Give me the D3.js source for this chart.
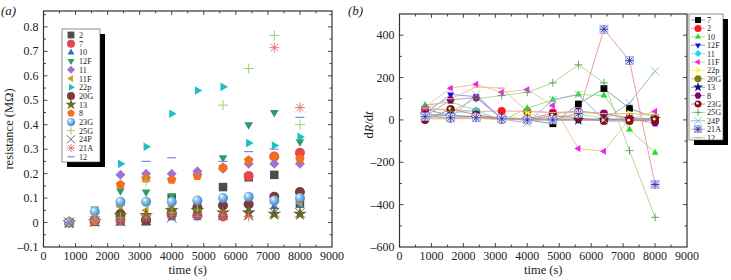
<!DOCTYPE html>
<html>
<head>
<meta charset="utf-8">
<script src="https://cdn.jsdelivr.net/npm/d3@7"></script>
<style>
  body { margin: 0; background: #fff; }
  svg { display: block; font-family: "Liberation Serif", "Times New Roman", serif; }
</style>
</head>
<body>
<svg id="chart" width="731" height="280"></svg>
<script>
// sample times (s)
const times = [800, 1600, 2400, 3200, 4000, 4800, 5600, 6400, 7200, 8000];

// (a) resistance (MΩ)
const namesA = ["2", "7", "10", "12F", "11", "11F", "22p", "20G", "13", "8", "23G", "25G", "24P", "21A", "12"];
const shapesA = ["square", "circle", "triUp", "triDown", "diamond", "triLeft", "triRight", "circle", "star", "pentagon", "sphere", "plus", "x", "asterisk", "dash"];
const colorsA = ["#4d4d4d", "#e8444c", "#2f6fc4", "#2e9a68", "#a070d8", "#c9a12a", "#1fbfc9", "#7a3c3c", "#6e6a1e", "#f26f1f", "#5aa2dc", "#8fd052", "#555555", "#e86a6a", "#6c8ee0"];
const resA = [
  [0, 0.005, 0.005, 0.005, 0.100, 0.050, 0.145, 0.185, 0.195, 0.080],
  [0, 0.010, 0.010, 0.010, 0.030, 0.030, 0.025, 0.190, 0.270, 0.285],
  [0, 0.010, 0.010, 0.010, 0.020, 0.020, 0.030, 0.050, 0.065, 0.070],
  [0, 0.055, 0.130, 0.125, 0.110, 0.070, 0.265, 0.400, 0.450, 0.330],
  [0, 0.010, 0.195, 0.200, 0.200, 0.210, 0.220, 0.240, 0.240, 0.240],
  [0, 0.010, 0.065, 0.050, 0.065, 0.075, 0.075, 0.075, 0.080, 0.080],
  [0, 0.010, 0.240, 0.310, 0.445, 0.540, 0.555, 0.325, 0.315, 0.350],
  [0, 0.005, 0.035, 0.010, 0.040, 0.060, 0.070, 0.075, 0.105, 0.125],
  [0, 0.005, 0.030, 0.030, 0.050, 0.050, 0.040, 0.040, 0.035, 0.035],
  [0, 0.008, 0.155, 0.180, 0.175, 0.190, 0.225, 0.255, 0.270, 0.260],
  [0, 0.045, 0.085, 0.085, 0.085, 0.090, 0.100, 0.105, 0.090, 0.100],
  [0, 0.010, 0.020, 0.170, 0.040, 0.050, 0.480, 0.630, 0.765, 0.400],
  [0, 0.005, 0.005, 0.010, 0.020, 0.040, 0.030, 0.030, 0.040, 0.040],
  [0, 0.005, 0.010, 0.020, 0.030, 0.025, 0.030, 0.025, 0.715, 0.470],
  [0, 0.010, 0.070, 0.250, 0.265, 0.200, 0.250, 0.290, 0.300, 0.430]
];

// (b) dR/dt
const namesB = ["7", "2", "10", "12F", "11", "11F", "22p", "20G", "13", "8", "23G", "25G", "24P", "21A", "12"];
const shapesB = ["square", "circle", "triUp", "triDown", "diamond", "triLeft", "triRight", "circle", "star", "hexagon", "dotCircle", "plus", "x", "boxAsterisk", "dash"];
const colorsB = ["#000000", "#ff1a1a", "#22dd22", "#1010e0", "#10e0e8", "#f020f0", "#ffff20", "#808010", "#10107a", "#800080", "#8b0f0f", "#50a050", "#8cb8cc", "#303098", "#d8b080"];
const lineColorsB = ["#7a9a9a", "#f0a0a0", "#90e090", "#8a8af0", "#90e8f0", "#f0c090", "#f0f090", "#c0c080", "#8080c0", "#c090c0", "#c08080", "#b0d090", "#88b0d8", "#f09090", "#e0c090"];
const rateB = [
  [50, 20, 15, 5, 0, -18, 75, 148, 55, 10],
  [50, 50, 40, 42, 40, 35, 40, 30, 10, 5],
  [70, 85, 45, -5, 55, 95, 120, 115, -45, -155],
  [30, 120, 110, 5, 0, 0, 0, 0, 0, 0],
  [20, 30, 45, 0, 5, 10, 30, 5, 5, 5],
  [60, 150, 168, 130, 143, 68, -135, -148, 5, 40],
  [10, 5, 5, 0, 30, 10, 15, 20, 30, 20],
  [5, 5, 10, 0, 5, 5, 5, 5, 0, 5],
  [25, 20, 15, 10, 5, 0, 0, 0, 5, 5],
  [15, 95, 105, 5, 5, 30, 40, 30, 5, -15],
  [0, 50, 25, 5, 0, 20, 10, -5, -5, 0],
  [60, 40, 100, 115, 130, 175, 260, 175, -145, -460],
  [20, 10, 120, 5, -15, 95, 120, 0, 80, 230],
  [15, 10, 10, 5, 0, 0, 30, 428, 280, -305],
  [55, 100, 155, 150, 40, 35, 35, 30, 30, 25]
];

const xTicks = d3.range(0, 9001, 1000);
const yTicksA = d3.range(-0.1, 0.81, 0.1).map((d) => Math.round(d * 10) / 10);
const yTicksB = d3.range(-600, 401, 200);

const svg = d3.select("#chart");
const defs = svg.append("defs");
const grad = defs.append("radialGradient").attr("id", "sphere").attr("cx", "40%").attr("cy", "40%").attr("fx", "35%").attr("fy", "30%").attr("r", "60%");
grad.append("stop").attr("offset", "0%").attr("stop-color", "#ffffff");
grad.append("stop").attr("offset", "35%").attr("stop-color", "#9cc8ee");
grad.append("stop").attr("offset", "100%").attr("stop-color", "#3f86cc");

// draws one marker centred on 0,0
function marker(g, shape, r, color) {
  const poly = (n, rot) => {
    const pts = d3.range(n).map((i) => {
      const a = rot + (i * 2 * Math.PI) / n;
      return [r * Math.cos(a), r * Math.sin(a)];
    });
    return "M" + pts.join("L") + "Z";
  };
  const tri = (rot) => poly(3, rot);
  const filled = (d) => g.append("path").attr("d", d).attr("fill", color);
  const stroked = (d, w) => g.append("path").attr("d", d).attr("fill", "none").attr("stroke", color).attr("stroke-width", w || 1);
  const ast = `M${-r},0H${r}M0,${-r}V${r}M${-r * 0.75},${-r * 0.75}L${r * 0.75},${r * 0.75}M${-r * 0.75},${r * 0.75}L${r * 0.75},${-r * 0.75}`;
  switch (shape) {
    case "square": filled(`M${-r * 0.85},${-r * 0.85}h${r * 1.7}v${r * 1.7}h${-r * 1.7}Z`); break;
    case "circle": g.append("circle").attr("r", r).attr("fill", color); break;
    case "triUp": filled(tri(-Math.PI / 2)); break;
    case "triDown": filled(tri(Math.PI / 2)); break;
    case "triLeft": filled(tri(Math.PI)); break;
    case "triRight": filled(tri(0)); break;
    case "diamond": filled(poly(4, -Math.PI / 2)); break;
    case "pentagon": filled(poly(5, -Math.PI / 2)); break;
    case "hexagon": filled(poly(6, 0)); break;
    case "star": filled(d3.symbol(d3.symbolStar, r * r * 2.4)()); break;
    case "sphere": g.append("circle").attr("r", r).attr("fill", "url(#sphere)"); break;
    case "dotCircle":
      g.append("circle").attr("r", r).attr("fill", color);
      g.append("circle").attr("r", r * 0.35).attr("cx", -r * 0.2).attr("cy", -r * 0.2).attr("fill", "#fff");
      break;
    case "plus": stroked(`M${-r},0H${r}M0,${-r}V${r}`, 0.9); break;
    case "x": stroked(`M${-r},${-r}L${r},${r}M${-r},${r}L${r},${-r}`, 0.9); break;
    case "asterisk": stroked(ast, 0.9); break;
    case "boxAsterisk":
      g.append("rect").attr("x", -r).attr("y", -r).attr("width", 2 * r).attr("height", 2 * r)
        .attr("fill", "#e0e4ff").attr("stroke", "#8890e0").attr("stroke-width", 0.6);
      stroked(ast, 0.9);
      break;
    case "dash": stroked(`M${-r * 0.9},0H${r * 0.9}`, 1.2); break;
  }
}

function frame(x, y, xMinor, yMinor, yFmt, yTicks) {
  const [x0, x1] = x.range();
  const [y0, y1] = y.range();
  const g = svg.append("g");
  g.append("rect").attr("x", x0).attr("y", y1).attr("width", x1 - x0).attr("height", y0 - y1)
    .attr("fill", "none").attr("stroke", "#333").attr("stroke-width", 1.2);
  const tk = g.append("g").attr("stroke", "#333").attr("stroke-width", 0.9);
  d3.range(x.domain()[0] + xMinor, x.domain()[1], xMinor).forEach((v) => {
    const len = v % 1000 === 0 ? 4 : 2.5;
    tk.append("line").attr("x1", x(v)).attr("x2", x(v)).attr("y1", y0).attr("y2", y0 - len);
    tk.append("line").attr("x1", x(v)).attr("x2", x(v)).attr("y1", y1).attr("y2", y1 + len);
  });
  const [d0, d1] = y.domain();
  for (let v = d0 + yMinor; v < d1 - 1e-9; v += yMinor) {
    const major = yTicks.some((t) => Math.abs(t - v) < 1e-6);
    const len = major ? 4 : 2.5;
    tk.append("line").attr("x1", x0).attr("x2", x0 + len).attr("y1", y(v)).attr("y2", y(v));
    tk.append("line").attr("x1", x1).attr("x2", x1 - len).attr("y1", y(v)).attr("y2", y(v));
  }
  g.append("g").selectAll("text").data(xTicks).join("text")
    .attr("x", (d) => x(d)).attr("y", y0 + 13).attr("text-anchor", "middle")
    .attr("font-size", 12).attr("fill", "#222").text((d) => d);
  g.append("g").selectAll("text").data(yTicks).join("text")
    .attr("x", x0 - 5).attr("y", (d) => y(d) + 4).attr("text-anchor", "end")
    .attr("font-size", 12).attr("fill", "#222").text(yFmt);
  svg.append("text").attr("x", (x0 + x1) / 2).attr("y", y0 + 27).attr("text-anchor", "middle")
    .attr("font-size", 12.5).attr("fill", "#222").text("time (s)");
}

function legend(x, y, w, h, step, names, shapes, colors, r, lineColors) {
  const g = svg.append("g").attr("transform", `translate(${x},${y})`);
  g.append("rect").attr("x", 5).attr("y", 5).attr("width", w).attr("height", h).attr("fill", "#000");
  g.append("rect").attr("width", w).attr("height", h).attr("fill", "#fff").attr("stroke", "#444").attr("stroke-width", 0.6);
  names.forEach((n, i) => {
    const row = g.append("g").attr("transform", `translate(0,${6 + i * step})`);
    if (lineColors) {
      row.append("line").attr("x1", 2).attr("x2", 16).attr("stroke", lineColors[i]).attr("stroke-width", 0.9);
    }
    marker(row.append("g").attr("transform", "translate(9,0)"), shapes[i], r, colors[i]);
    row.append("text").attr("x", lineColors ? 18 : 17).attr("y", 3).attr("font-size", 8.2).attr("fill", "#222").text(n);
  });
}

// ---- (a) ----
const xA = d3.scaleLinear().domain([0, 9000]).range([43.5, 332]);
const yA = d3.scaleLinear().domain([-0.1, 0.865]).range([247, 11]);
frame(xA, yA, 500, 0.05, (d) => (d === 0 ? "0" : d < 0 ? "\u2013" + Math.abs(d).toFixed(1) : d.toFixed(1)), yTicksA);

resA.forEach((vals, s) => {
  const g = svg.append("g");
  vals.forEach((v, i) => {
    if (v == null) return;
    marker(g.append("g").attr("transform", `translate(${xA(times[i])},${yA(v)})`), shapesA[s], 5, colorsA[s]);
  });
});
legend(62, 29, 38, 133, 8.7, namesA, shapesA, colorsA, 4, null);

svg.append("text").attr("x", 1).attr("y", 15).attr("font-size", 13).attr("font-style", "italic").attr("fill", "#222").text("(a)");
svg.append("text").attr("transform", "translate(13,129) rotate(-90)").attr("text-anchor", "middle")
  .attr("font-size", 12.5).attr("fill", "#222").text("resistance (M\u03a9)");

// ---- (b) ----
const xB = d3.scaleLinear().domain([0, 9000]).range([399.5, 687]);
const yB = d3.scaleLinear().domain([-600, 500]).range([247, 14]);
frame(xB, yB, 500, 100, (d) => (d < 0 ? "\u2013" + Math.abs(d) : d), yTicksB);

const line = d3.line().x((d, i) => xB(times[i])).y((d) => yB(d));
rateB.forEach((vals, s) => {
  svg.append("path").attr("d", line(vals)).attr("fill", "none")
    .attr("stroke", lineColorsB[s]).attr("stroke-width", 0.9);
});
rateB.forEach((vals, s) => {
  const g = svg.append("g");
  vals.forEach((v, i) => {
    marker(g.append("g").attr("transform", `translate(${xB(times[i])},${yB(v)})`), shapesB[s], 4, colorsB[s]);
  });
});
legend(689, 14, 34, 126, 8.4, namesB, shapesB, colorsB, 3.5, lineColorsB);

svg.append("text").attr("x", 348).attr("y", 15).attr("font-size", 13).attr("font-style", "italic").attr("fill", "#222").text("(b)");
const lb = svg.append("text").attr("transform", "translate(373,125) rotate(-90)").attr("text-anchor", "middle")
  .attr("font-size", 12.5).attr("fill", "#222");
lb.append("tspan").text("d");
lb.append("tspan").attr("font-style", "italic").text("R");
lb.append("tspan").text("/d");
lb.append("tspan").attr("font-style", "italic").text("t");
</script>
</body>
</html>
